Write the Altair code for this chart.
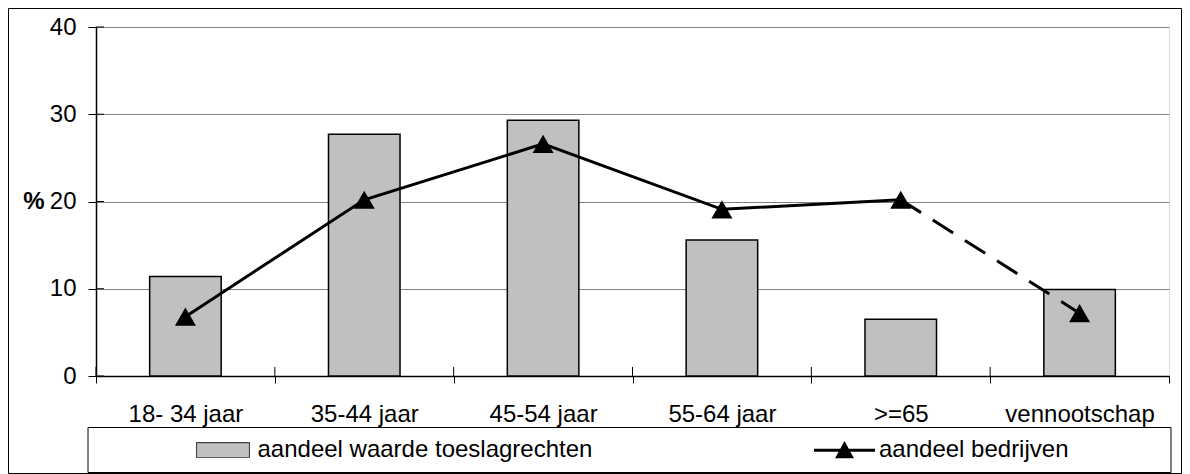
import altair as alt
import pandas as pd

cats = ["18- 34 jaar", "35-44 jaar", "45-54 jaar", "55-64 jaar", ">=65", "vennootschap"]
waarde = [11.4, 27.7, 29.3, 15.6, 6.5, 9.9]
bedrijven = [6.8, 20.2, 26.6, 19.1, 20.2, 7.2]
y_ticks = [0, 10, 20, 30, 40]
series = ["aandeel waarde toeslagrechten", "aandeel bedrijven"]

FONT = "Liberation Sans"
W, H = 1073, 349

df = pd.DataFrame({"cat": cats, "waarde": waarde, "bedrijven": bedrijven, "idx": list(range(len(cats)))})
tick_df = pd.DataFrame({"t": y_ticks})
leg_df = pd.DataFrame({"series": series})
one = pd.DataFrame({"a": [0]})

xsort = alt.Sort(cats)
yscale = alt.Scale(domain=[0, 40], nice=False)
xscale = alt.Scale(paddingInner=0, paddingOuter=0)

xaxis = alt.Axis(title=None, labelAngle=0, tickBand="extent", tickSize=7, tickColor="black",
                 domainColor="black", domainWidth=1.5, labelFontSize=24, labelFont=FONT,
                 labelColor="black", labelPadding=19, grid=False)
yaxis = alt.Axis(values=y_ticks, title="%", titleAngle=0, titleFontWeight="bold",
                 titleFontSize=24, titleFont=FONT, titleColor="black", titleX=-52, titleY=174.5,
                 titleAlign="right", titleBaseline="middle", tickSize=8, tickColor="black",
                 domainColor="black", domainWidth=1.5, labelFontSize=24, labelFont=FONT,
                 labelColor="black", labelPadding=12, grid=True, gridColor="#808080",
                 gridWidth=1)


def X(**kw):
    return alt.X("cat:N", sort=xsort, scale=xscale, axis=xaxis, **kw)


def Y(field):
    return alt.Y(field, scale=yscale, axis=yaxis)


bars = alt.Chart(df).mark_bar(
    fill="#c0c0c0", stroke="black", strokeWidth=1.5, width=alt.RelativeBandSize(0.4)
).encode(x=X(), y=Y("waarde:Q"))

line_solid = alt.Chart(df).transform_filter("datum.idx <= 4").mark_line(
    color="black", strokeWidth=3
).encode(x=X(), y=Y("bedrijven:Q"))

line_dash = alt.Chart(df).transform_filter("datum.idx >= 4").mark_line(
    color="black", strokeWidth=3, strokeDash=[24, 14]
).encode(x=X(), y=Y("bedrijven:Q"))

points = alt.Chart(df).mark_point(
    shape="triangle-up", filled=True, fill="black", opacity=1, size=441
).encode(x=X(), y=Y("bedrijven:Q"))

ytick_in = alt.Chart(tick_df).mark_rule(color="black", strokeWidth=1).encode(
    y=Y("t:Q"), x=alt.value(0), x2=alt.value(8),
)

xtick_in = alt.Chart(df).mark_rule(color="black", strokeWidth=1).encode(
    x=X(bandPosition=0), y=alt.value(H - 9), y2=alt.value(H),
)

# legend symbols (unit box -1..1 scaled to 61 px)
rect_path = "M-0.85,-0.23L0.85,-0.23L0.85,0.23L-0.85,0.23Z"
line_path = "M-1,-0.05L1,-0.05L1,0.05L-1,0.05Z M0,-0.3L0.31,0.26L-0.31,0.26Z"

LX, LY = 96.5, 392.5
leg = alt.Legend(orient="none", legendX=LX, legendY=LY, direction="horizontal", columns=2,
                 columnPadding=221.5, title=None, labelFontSize=24, labelFont=FONT, labelColor="black",
                 labelLimit=1000, symbolSize=3721, labelOffset=4, padding=0, symbolStrokeWidth=0)

legend_layer = alt.Chart(leg_df).transform_filter("false").mark_point(
    filled=True, opacity=1
).encode(
    fill=alt.Fill("series:N", scale=alt.Scale(domain=series, range=["#c0c0c0", "black"]), legend=leg),
    shape=alt.Shape("series:N", scale=alt.Scale(domain=series, range=[rect_path, line_path]), legend=leg),
)

# outline of the bar swatch in the legend (decoration)
swatch_outline = alt.Chart(one).mark_rect(fill=None, stroke="black", strokeWidth=1.5).encode(
    x=alt.value(101), x2=alt.value(153), y=alt.value(416), y2=alt.value(430),
)

legend_box = alt.Chart(one).mark_rect(fill=None, stroke="black", strokeWidth=1).encode(
    x=alt.value(-8), x2=alt.value(1075), y=alt.value(400.5), y2=alt.value(445.5),
)

outer_box = alt.Chart(one).mark_rect(fill=None, stroke="black", strokeWidth=1).encode(
    x=alt.value(-87.5), x2=alt.value(1085.5), y=alt.value(-18.5), y2=alt.value(446.5),
)

chart = alt.layer(
    bars, ytick_in, xtick_in, line_solid, line_dash, points, legend_layer,
    swatch_outline, legend_box, outer_box
).properties(
    width=W, height=H,
    autosize=alt.AutoSizeParams(type="none"),
    padding={"left": 88, "top": 19, "right": 13, "bottom": 98},
).configure_view(
    stroke="#a0a0a0", strokeWidth=1.5
).configure(
    font=FONT, background="white"
)

chart.save("out.html", embed_options={"renderer": "svg", "actions": False})
